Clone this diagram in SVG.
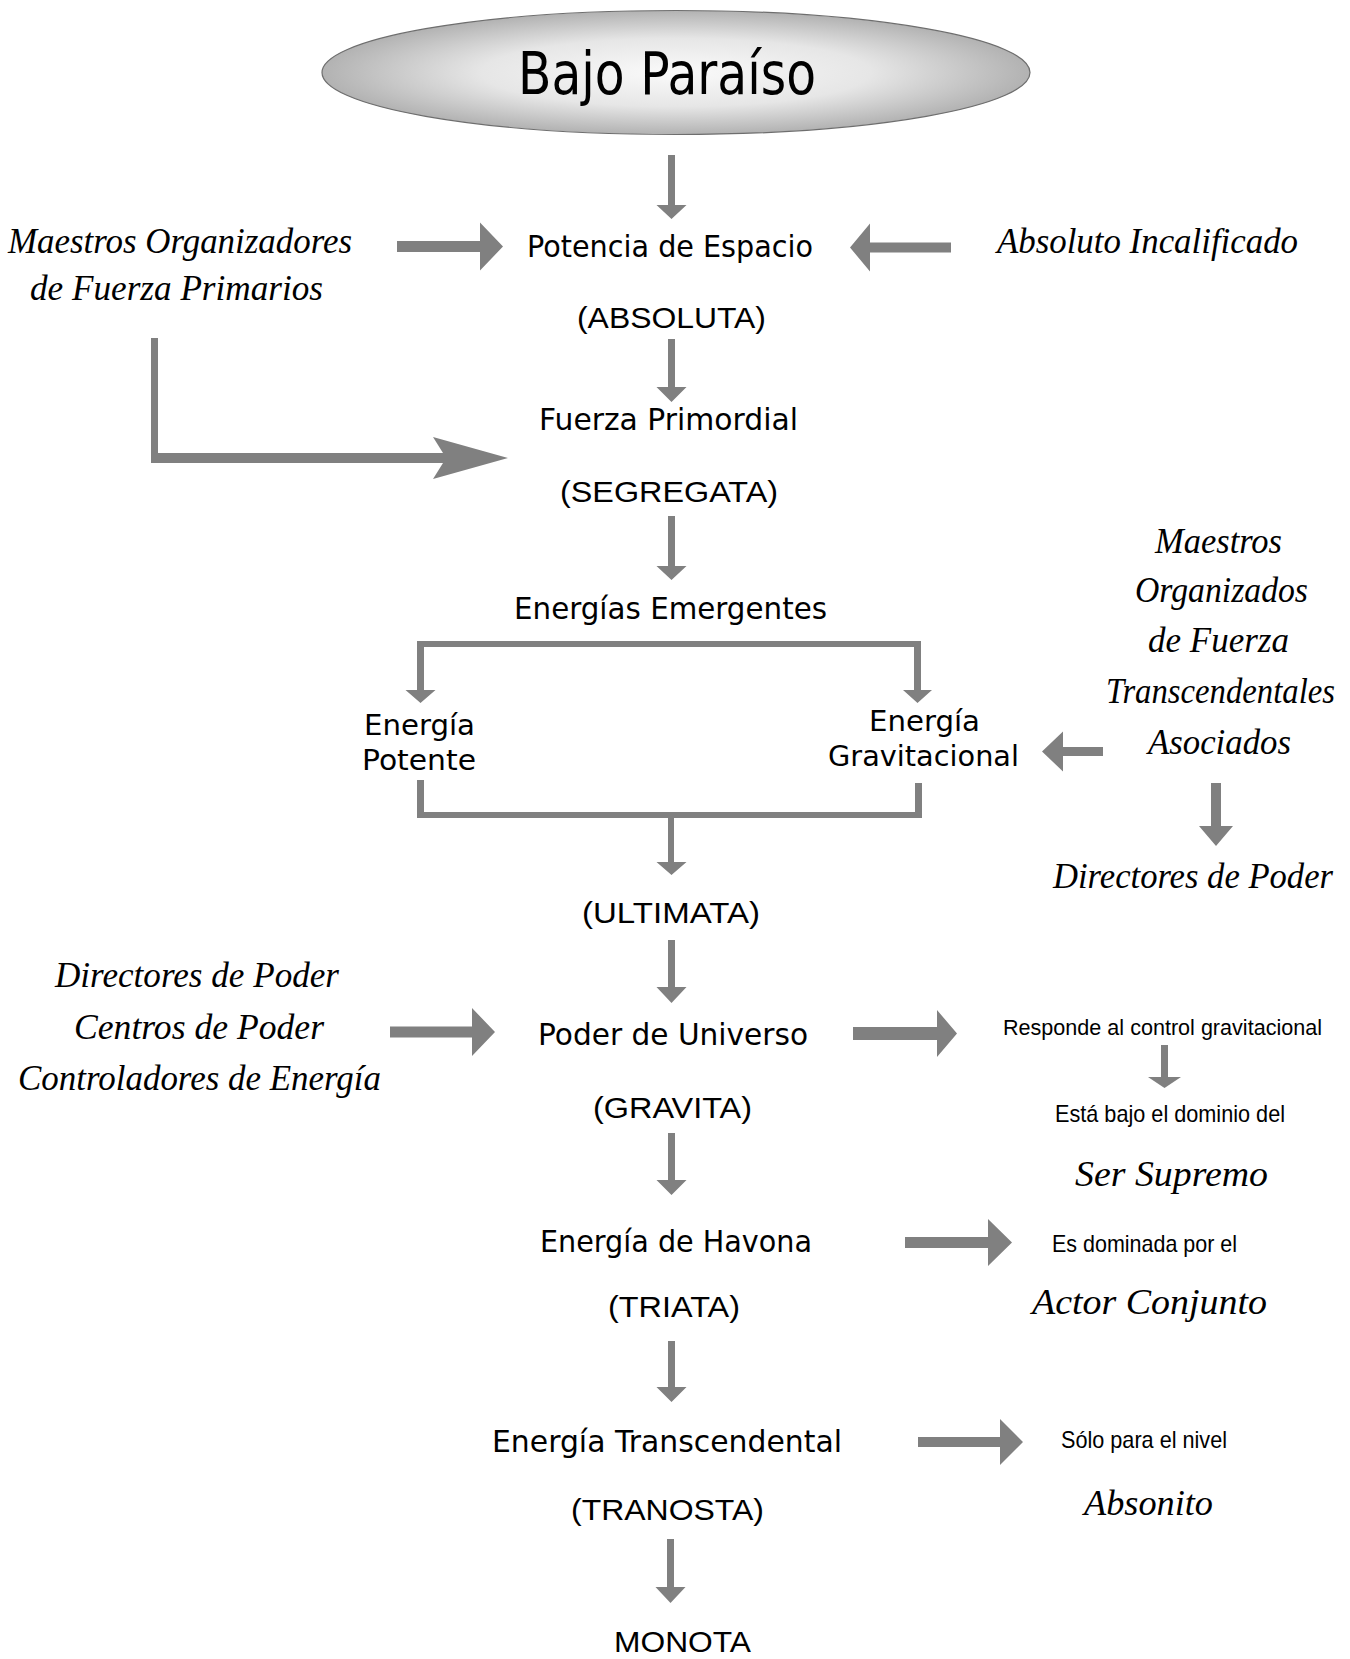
<svg xmlns="http://www.w3.org/2000/svg" width="1350" height="1659" viewBox="0 0 1350 1659">
<defs>
<radialGradient id="ellGrad" cx="50%" cy="50%" r="50%">
<stop offset="0%" stop-color="#fafafa"/>
<stop offset="55%" stop-color="#e6e6e6"/>
<stop offset="100%" stop-color="#b2b2b2"/>
</radialGradient>
<style>
.arr{fill:#808080;stroke:none}
.comic{font-family:"DejaVu Sans","Noto Sans",sans-serif;font-size:31px;fill:#000;text-anchor:middle}
.big{font-size:58px}
.pair{font-size:29px}
.caps{font-family:"Liberation Sans",Arial,sans-serif;font-size:29px;fill:#000;text-anchor:middle}
.plain{font-family:"Liberation Sans",Arial,sans-serif;font-size:24px;fill:#000;text-anchor:middle}
.small{font-size:22px}
.script{font-family:"Liberation Serif","Times New Roman",serif;font-style:italic;font-size:35px;fill:#000;text-anchor:middle}
</style>
</defs>
<rect width="1350" height="1659" fill="#fff"/>

<g id="connectors">
<polygon class="arr" points="668,155 675,155 675,205 686.5,205 671.5,219 656.5,205 668,205"/>
<polygon class="arr" points="397,241 480,241 480,222.5 503,246.5 480,270.5 480,252 397,252"/>
<polygon class="arr" points="951,242.5 870,242.5 870,223.5 850,247.5 870,271.5 870,252.5 951,252.5"/>
<polygon class="arr" points="668,339 675,339 675,387 686.5,387 671.5,402 656.5,387 668,387"/>
<polygon class="arr" points="151,338 158,338 158,453 443,453 433,437 508,458 433,479 443,463 151,463"/>
<polygon class="arr" points="668,516 675,516 675,566 686.5,566 671.5,580 656.5,566 668,566"/>
<path class="arr" d="M417,641 H921 V690 H932 L917.5,703 L903,690 H914 V647 H424 V690 H435.5 L420.5,703 L405.5,690 H417 Z"/>
<path class="arr" d="M417,780 H424 V812 H915 V783 H922 V818 H674 V862 H686.5 L671.5,875 L656.5,862 H668 V818 H417 Z"/>
<polygon class="arr" points="1103,747 1063,747 1063,731.5 1042,751.5 1063,771.5 1063,756 1103,756"/>
<polygon class="arr" points="1211,783 1221,783 1221,826 1233,826 1216,846 1199,826 1211,826"/>
<polygon class="arr" points="668,940 675,940 675,987 686.5,987 671.5,1003 656.5,987 668,987"/>
<polygon class="arr" points="390,1026.5 472,1026.5 472,1008 495,1032 472,1056 472,1037.5 390,1037.5"/>
<polygon class="arr" points="853,1027 937,1027 937,1010 957,1033.5 937,1057 937,1040 853,1040"/>
<polygon class="arr" points="1161,1045 1168,1045 1168,1077 1181,1077 1164.5,1088 1148,1077 1161,1077"/>
<polygon class="arr" points="668,1133 675,1133 675,1180 686.5,1180 671.5,1195 656.5,1180 668,1180"/>
<polygon class="arr" points="905,1237 988,1237 988,1219 1012,1242.5 988,1266 988,1248 905,1248"/>
<polygon class="arr" points="668,1341 675,1341 675,1387 686.5,1387 671.5,1402 656.5,1387 668,1387"/>
<polygon class="arr" points="918,1437 1000,1437 1000,1419 1023,1442 1000,1465 1000,1447 918,1447"/>
<polygon class="arr" points="667,1539 674,1539 674,1587 685.5,1587 670.5,1603 655.5,1587 667,1587"/>
</g>

<g id="bajo-paraiso">
<ellipse cx="676" cy="72.5" rx="354" ry="62" fill="url(#ellGrad)" stroke="#6e6e6e" stroke-width="1.2"/>
<text class="comic big" x="667" y="94" textLength="298" lengthAdjust="spacingAndGlyphs">Bajo Paraíso</text>
</g>

<g id="potencia-espacio">
<text class="comic" x="670" y="257" textLength="286" lengthAdjust="spacingAndGlyphs">Potencia de Espacio</text>
<text class="caps" x="671.5" y="328" textLength="189" lengthAdjust="spacingAndGlyphs">(ABSOLUTA)</text>
</g>

<g id="maestros-primarios">
<text class="script" x="180" y="253" textLength="344" lengthAdjust="spacingAndGlyphs">Maestros Organizadores</text>
<text class="script" x="176.5" y="300" textLength="293" lengthAdjust="spacingAndGlyphs">de Fuerza Primarios</text>
</g>

<g id="absoluto-incalificado">
<text class="script" x="1147.5" y="253" textLength="301" lengthAdjust="spacingAndGlyphs">Absoluto Incalificado</text>
</g>

<g id="fuerza-primordial">
<text class="comic" x="668.5" y="430" textLength="259" lengthAdjust="spacingAndGlyphs">Fuerza Primordial</text>
<text class="caps" x="669" y="502" textLength="218" lengthAdjust="spacingAndGlyphs">(SEGREGATA)</text>
</g>

<g id="energias-emergentes">
<text class="comic" x="670.5" y="619" textLength="313" lengthAdjust="spacingAndGlyphs">Energías Emergentes</text>
</g>

<g id="energia-potente">
<text class="comic pair" x="419.5" y="735" textLength="111" lengthAdjust="spacingAndGlyphs">Energía</text>
<text class="comic pair" x="419" y="770" textLength="114" lengthAdjust="spacingAndGlyphs">Potente</text>
</g>

<g id="energia-gravitacional">
<text class="comic pair" x="924.5" y="731" textLength="111" lengthAdjust="spacingAndGlyphs">Energía</text>
<text class="comic pair" x="923.5" y="766" textLength="191" lengthAdjust="spacingAndGlyphs">Gravitacional</text>
</g>

<g id="maestros-transcendentales">
<text class="script" x="1218.5" y="553" textLength="127" lengthAdjust="spacingAndGlyphs">Maestros</text>
<text class="script" x="1221.5" y="602" textLength="173" lengthAdjust="spacingAndGlyphs">Organizados</text>
<text class="script" x="1218.5" y="652" textLength="141" lengthAdjust="spacingAndGlyphs">de Fuerza</text>
<text class="script" x="1220.5" y="703" textLength="229" lengthAdjust="spacingAndGlyphs">Transcendentales</text>
<text class="script" x="1219.5" y="754" textLength="143" lengthAdjust="spacingAndGlyphs">Asociados</text>
</g>

<g id="directores-poder-der">
<text class="script" x="1193" y="888" textLength="280" lengthAdjust="spacingAndGlyphs">Directores de Poder</text>
</g>

<g id="ultimata">
<text class="caps" x="671" y="923" textLength="178" lengthAdjust="spacingAndGlyphs">(ULTIMATA)</text>
</g>

<g id="directores-centros-controladores">
<text class="script" x="197" y="987" textLength="284" lengthAdjust="spacingAndGlyphs">Directores de Poder</text>
<text class="script" x="199" y="1039" textLength="250" lengthAdjust="spacingAndGlyphs">Centros de Poder</text>
<text class="script" x="199.5" y="1090" textLength="363" lengthAdjust="spacingAndGlyphs">Controladores de Energía</text>
</g>

<g id="poder-universo">
<text class="comic" x="673" y="1045" textLength="270" lengthAdjust="spacingAndGlyphs">Poder de Universo</text>
<text class="caps" x="672.5" y="1118" textLength="159" lengthAdjust="spacingAndGlyphs">(GRAVITA)</text>
</g>

<g id="responde-control">
<text class="plain small" x="1162.5" y="1035" textLength="319" lengthAdjust="spacingAndGlyphs">Responde al control gravitacional</text>
</g>

<g id="ser-supremo">
<text class="plain" x="1170" y="1122" textLength="230" lengthAdjust="spacingAndGlyphs">Está bajo el dominio del</text>
<text class="script" x="1171.5" y="1186" textLength="193" lengthAdjust="spacingAndGlyphs">Ser Supremo</text>
</g>

<g id="energia-havona">
<text class="comic" x="676" y="1252" textLength="272" lengthAdjust="spacingAndGlyphs">Energía de Havona</text>
<text class="caps" x="674" y="1317" textLength="132" lengthAdjust="spacingAndGlyphs">(TRIATA)</text>
</g>

<g id="actor-conjunto">
<text class="plain" x="1144.5" y="1252" textLength="185" lengthAdjust="spacingAndGlyphs">Es dominada por el</text>
<text class="script" x="1149.5" y="1314" textLength="235" lengthAdjust="spacingAndGlyphs">Actor Conjunto</text>
</g>

<g id="energia-transcendental">
<text class="comic" x="667" y="1452" textLength="350" lengthAdjust="spacingAndGlyphs">Energía Transcendental</text>
<text class="caps" x="667.5" y="1520" textLength="193" lengthAdjust="spacingAndGlyphs">(TRANOSTA)</text>
</g>

<g id="absonito">
<text class="plain" x="1144" y="1448" textLength="166" lengthAdjust="spacingAndGlyphs">Sólo para el nivel</text>
<text class="script" x="1148.5" y="1515" textLength="129" lengthAdjust="spacingAndGlyphs">Absonito</text>
</g>

<g id="monota">
<text class="caps" x="682.5" y="1652" textLength="137" lengthAdjust="spacingAndGlyphs">MONOTA</text>
</g>
</svg>
